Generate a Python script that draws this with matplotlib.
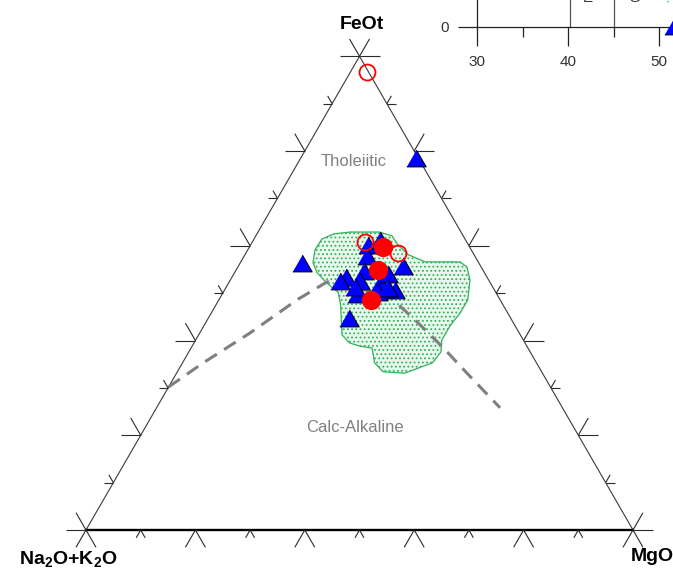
import numpy as np
import matplotlib.pyplot as plt
from matplotlib.patches import Polygon

plt.rcParams['font.family'] = ['Liberation Sans', 'DejaVu Sans']
plt.rcParams['mathtext.fontset'] = 'custom'
plt.rcParams['mathtext.bf'] = 'Liberation Sans:bold'
plt.rcParams['mathtext.rm'] = 'Liberation Sans'
plt.rcParams['hatch.linewidth'] = 0.8

# AFM values (wt%, normalised to 100): FeOt, MgO, Na2O+K2O
tri_feot = [78.5, 56.4, 44.8, 60.2, 61.2, 57.8, 55.7, 53.4, 54.7, 52.6, 52.1, 54.0, 50.7, 49.8, 50.2, 51.1, 51.3, 52.6]
tri_mgo = [21.0, 11.3, 25.7, 21.5, 23.1, 22.5, 30.1, 20.8, 23.5, 23.8, 27.7, 28.2, 31.2, 24.6, 28.3, 29.7, 23.5, 20.2]
tri_alk = [0.5, 32.3, 29.5, 18.3, 15.7, 19.7, 14.2, 25.8, 21.8, 23.6, 20.2, 17.8, 18.1, 25.6, 21.5, 19.2, 25.2, 27.2]

dot_feot = [59.7, 54.9, 48.6]
dot_mgo = [24.4, 25.9, 27.8]
dot_alk = [15.9, 19.2, 23.6]

ring_feot = [96.7, 60.8, 58.5]
ring_mgo = [3.0, 20.6, 27.8]
ring_alk = [0.3, 18.6, 13.7]

# tholeiitic / calc-alkaline divide
div_feot = [30.2, 35.3, 41.6, 48.6, 52.4, 51.1, 49.2, 43.9, 38.6, 33.1, 25.8]
div_mgo = [0.0, 3.8, 9.2, 14.3, 17.9, 24.2, 31.0, 38.6, 45.9, 53.1, 62.8]

# reference field outline
field_feot = [56.4, 59.1, 61.4, 62.5, 62.9, 62.9, 62.1, 60.2, 58.1, 56.6, 56.6, 55.5, 52.8, 48.6, 45.8,
              43.1, 40.1, 37.6, 35.3, 33.1, 33.4, 35.3, 38.4, 38.8, 39.5, 41.2, 47.5, 50.2, 52.1, 54.3]
field_mgo = [13.3, 12.3, 12.4, 14.0, 16.8, 22.2, 24.9, 26.9, 29.9, 33.7, 40.1, 41.9, 43.8, 45.5, 45.5,
             45.0, 45.0, 46.1, 45.7, 41.7, 37.6, 35.1, 33.1, 30.7, 28.4, 26.2, 22.8, 21.0, 18.0, 15.1]

# neighbouring TAS panel (SiO2 vs total alkali)
tas_xticks = [30, 40, 50]
tas_bounds = [40.2, 45.0]
tas_labels = ['E', 'G']
tas_label_x = [42.2, 47.3]
tas_pt_sio2 = [51.6]
tas_pt_alk = [0.1]

SQ3 = np.sqrt(3) / 2


def to_xy(feot, mgo):
    f = np.asarray(feot, float) / 100.0
    m = np.asarray(mgo, float) / 100.0
    return m + f / 2, f * SQ3


fig = plt.figure(figsize=(6.73, 5.71), dpi=100)
ax = fig.add_axes([0, 0, 1, 1])
ax.set_xlim(-86 / 547, 587 / 547)
ax.set_ylim(-41 / 547, 530 / 547)
ax.axis('off')

# triangle frame
A = np.array([0.0, 0.0])
M = np.array([1.0, 0.0])
F = np.array([0.5, SQ3])
ax.plot([A[0], F[0], M[0]], [A[1], F[1], M[1]], color='#3a3a3a', lw=0.8, zorder=2)
ax.plot([A[0], M[0]], [A[1], M[1]], color='black', lw=1.7, zorder=2)

big, small = 20 / 547, 9 / 547


def edge_ticks(p0, p1, normal):
    for i in range(11):
        px, py = p0 + (p1 - p0) * i / 10
        L = big if i % 2 == 0 else small
        for a in (normal - 30, normal + 30):
            r = np.radians(a)
            ax.plot([px, px + L * np.cos(r)], [py, py + L * np.sin(r)],
                    color='#2a2a2a', lw=0.8, zorder=2, solid_capstyle='butt')


edge_ticks(A, F, 150)
edge_ticks(A, M, 270)
edge_ticks(M, F, 30)

# field
fx, fy = to_xy(field_feot, field_mgo)
ax.add_patch(Polygon(np.column_stack([fx, fy]), closed=True, facecolor='#eaf7ee',
                     edgecolor='#31b35a', hatch='....', lw=0.9, zorder=3))

dx, dy = to_xy(div_feot, div_mgo)
ax.plot(dx, dy, color='#808080', lw=2.2, dashes=(4.5, 2.8), zorder=4)

# samples
tri = [(-1, -0.866), (1, -0.866), (0, 0.866)]
x, y = to_xy(tri_feot, tri_mgo)
ax.plot(x, y, ls='none', marker=tri, ms=14, mfc='#0000ff', mec='black', mew=0.7, zorder=5)
x, y = to_xy(dot_feot, dot_mgo)
ax.plot(x, y, ls='none', marker='o', ms=13, mfc='#ff0000', mec='#ff0000', mew=0.8, zorder=6)
x, y = to_xy(ring_feot, ring_mgo)
ax.plot(x, y, ls='none', marker='o', ms=11.5, mfc='none', mec='#ff0000', mew=1.3, zorder=6)

# labels
ax.text(0.505, 0.925, 'FeOt', ha='center', va='center', fontsize=14, fontweight='bold')
ax.text(-0.033, -0.053, r'$\mathbf{Na_2O{+}K_2O}$', ha='center', va='center', fontsize=14)
ax.text(1.035, -0.049, 'MgO', ha='center', va='center', fontsize=14, fontweight='bold')
ax.text(0.49, 0.673, 'Tholeiitic', ha='center', va='center', fontsize=12, color='#808080')
ax.text(0.492, 0.188, 'Calc-Alkaline', ha='center', va='center', fontsize=12, color='#808080')

# TAS panel corner
ins = fig.add_axes([477 / 673, 544 / 571, 0.4, 0.1])
ins.set_xlim(30, 30 + 0.4 * 673 / 9.1)
ins.set_ylim(0, 6)
ins.patch.set_alpha(0)
for s in ('top', 'right'):
    ins.spines[s].set_visible(False)
for s in ('left', 'bottom'):
    ins.spines[s].set_linewidth(0.9)
    ins.spines[s].set_color('#222222')
ins.set_xticks(tas_xticks)
ins.set_xticks([35, 45], minor=True)
ins.set_yticks([0])
ins.tick_params(axis='both', which='major', length=14, width=0.9, color='#222222',
                labelsize=11, labelcolor='#333333', pad=6)
ins.tick_params(axis='x', which='minor', length=7, width=0.9, color='#222222')
for b in tas_bounds:
    ins.plot([b, b], [0, 6], color='#555555', lw=0.9, clip_on=False)
for lx, t in zip(tas_label_x, tas_labels):
    ins.text(lx, 3.0, t, ha='center', va='center', fontsize=11, color='#333333', clip_on=False)
ins.plot([51.0, 51.1], [2.6, 3.4], color='#33bb55', lw=1, ls=':', clip_on=False)
ins.plot(tas_pt_sio2, tas_pt_alk, ls='none', marker=tri, ms=14, mfc='#0000ff', mec='black',
         mew=0.7, clip_on=False, zorder=5)

fig.savefig('out.png', dpi=100)
